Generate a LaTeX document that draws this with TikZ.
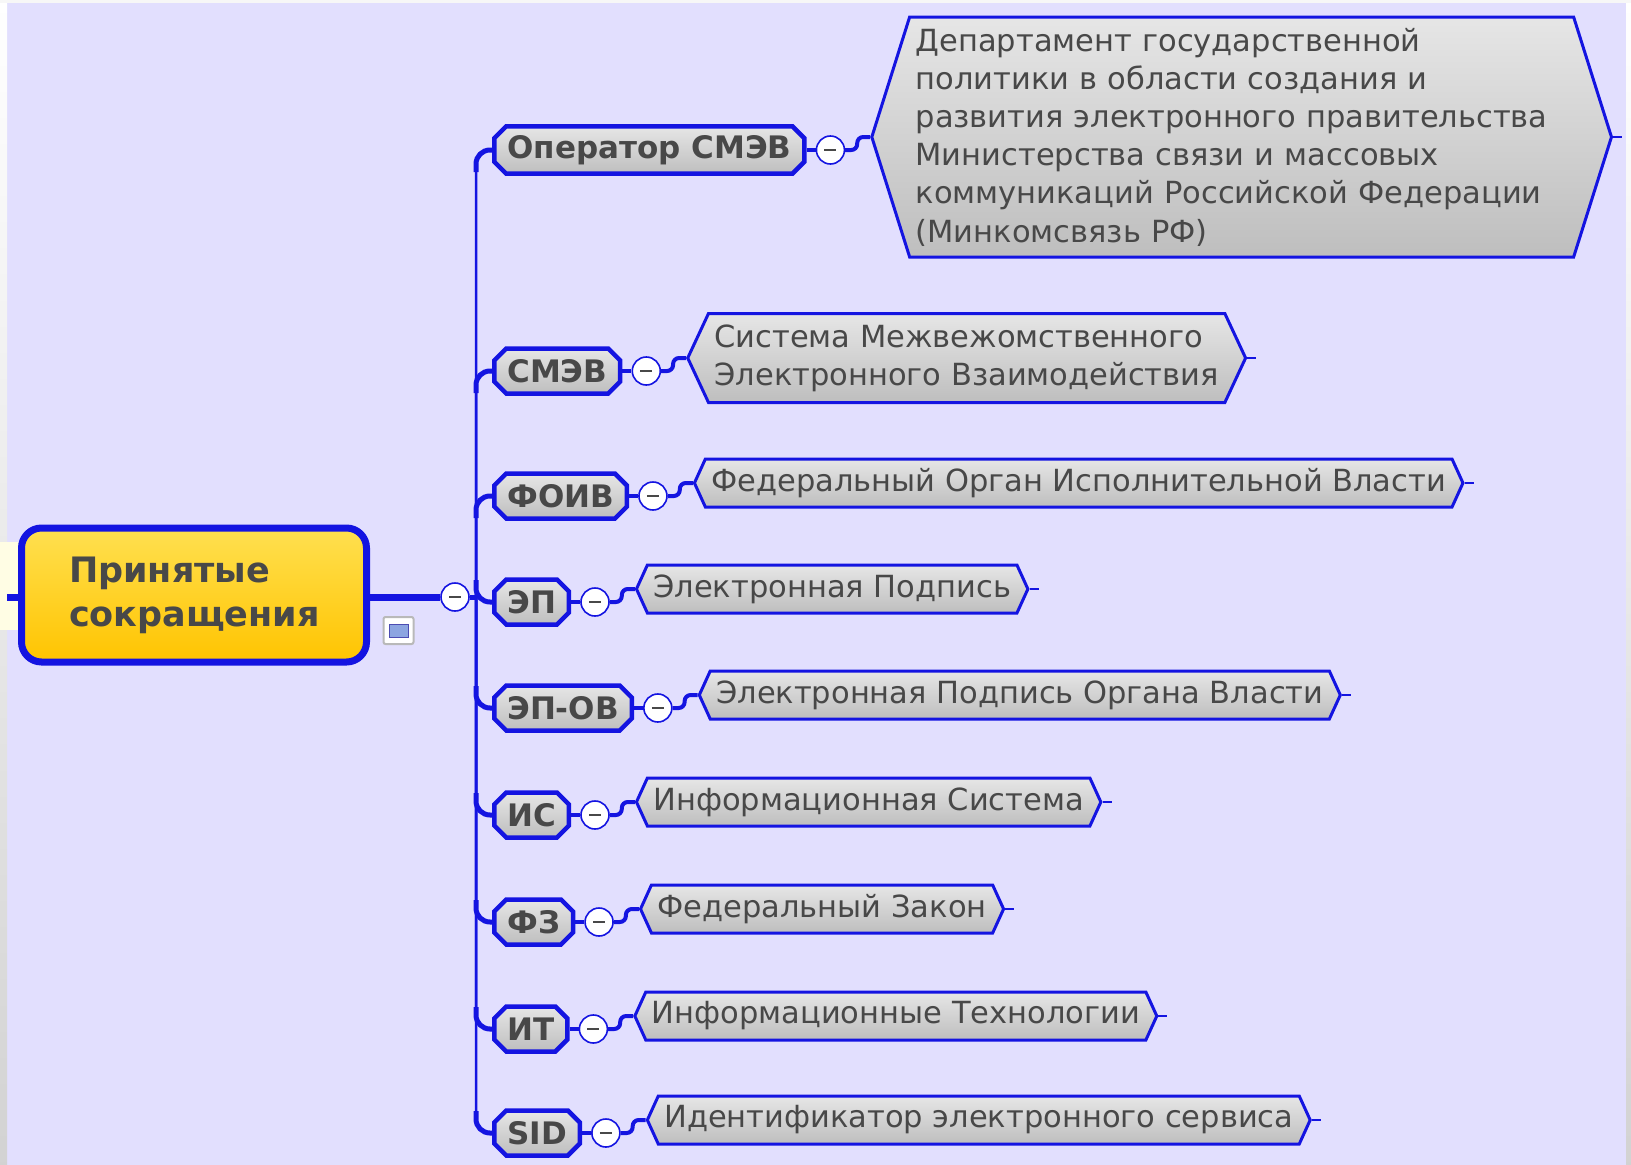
\documentclass[tikz,border=0pt]{standalone}
\usepackage{fontspec}
\setmainfont{DejaVu Sans}
\usetikzlibrary{shapes.misc,shapes.symbols,calc,positioning}
\definecolor{mmblue}{RGB}{20,20,225}
\definecolor{lav}{RGB}{226,223,254}
\definecolor{txt}{RGB}{72,72,72}
\definecolor{gtop}{RGB}{230,230,230}
\definecolor{gbot}{RGB}{190,190,190}
\definecolor{ytop}{RGB}{255,224,80}
\definecolor{ybot}{RGB}{255,196,0}
\definecolor{paley}{RGB}{255,253,228}
\definecolor{iconblue}{RGB}{140,165,225}
\begin{document}
\begin{tikzpicture}[x=1pt,y=-1pt,
  rootbox/.style={rectangle, rounded corners=20pt, draw=mmblue, line width=7pt,
    top color=ytop, bottom color=ybot, text=txt,
    font=\bfseries\fontsize{35}{44}\selectfont, minimum width=345pt,
    minimum height=134pt, align=left, text width=250pt},
  kid/.style={chamfered rectangle, chamfered rectangle xsep=6pt,
    chamfered rectangle ysep=6pt, draw=mmblue, line width=4.5pt,
    top color=gtop, bottom color=gbot, text=txt,
    font=\bfseries\fontsize{31}{36}\selectfont, inner xsep=7pt, inner ysep=3pt,
    minimum height=45pt, anchor=west},
  hexb/.style={signal, signal to=west and east, signal pointer angle=131,
    draw=mmblue, line width=3pt, top color=gtop, bottom color=gbot, text=txt,
    font=\fontsize{30.5}{38.2}\selectfont, inner xsep=6pt, inner ysep=3pt,
    minimum height=48pt, anchor=west, align=left},
  cnode/.style={circle, draw=mmblue, line width=1.6pt, fill=white,
    minimum size=28pt, inner sep=0pt,
    path picture={\draw[line width=1.6pt, txt]
      ([xshift=-6pt]path picture bounding box.center) --
      ([xshift=6pt]path picture bounding box.center);}},
  link/.style={draw=mmblue, line width=4pt, rounded corners=6pt},
  trunkline/.style={draw=mmblue, line width=2.5pt, rounded corners=14pt},
  bendline/.style={draw=mmblue, line width=5pt, rounded corners=14pt},
  tickline/.style={draw=mmblue, line width=2pt}
]
% background
\fill[lav] (0,0) rectangle (1631,1165);
\shade[top color=white, bottom color=gray!35] (0,0) rectangle (7,1165);
\shade[top color=white, bottom color=gray!35] (1626,0) rectangle (1631,1165);
\fill[white!94!gray] (0,0) rectangle (1631,3);
\fill[paley] (0,542) rectangle (120,630);
\useasboundingbox (0,0) rectangle (1631,1165);

% root
\node[rootbox] (root) at (194,595) {Принятые\\сокращения};
\coordinate (st) at (7,597);
\draw[mmblue, line width=7pt] (st) -- (st -| root.west);
\node[cnode] (c0) at (455,597) {};
\draw[mmblue, line width=7pt] (c0.west -| root.east) -- (c0.west);
\coordinate (J) at (476,597);
\draw[mmblue, line width=5pt] (c0.east) -- (J);

% icon
\node[draw=gray!55, line width=2pt, fill=white, rounded corners=2pt,
  minimum width=30pt, minimum height=27pt, inner sep=0pt] (icon) at (398.5,630.5) {};
\node[draw=blue!40!gray, line width=1pt, fill=iconblue, minimum width=19pt,
  minimum height=13pt, inner sep=0pt] (iconin) at (icon.center) {};

% children
\node[kid] (k1) at (492,150) {Оператор СМЭВ};
\node[kid] (k2) at (492,371) {СМЭВ};
\node[kid] (k3) at (492,496) {ФОИВ};
\node[kid] (k4) at (492,602) {ЭП};
\node[kid] (k5) at (492,708) {ЭП-ОВ};
\node[kid] (k6) at (492,815) {ИС};
\node[kid] (k7) at (492,922) {ФЗ};
\node[kid] (k8) at (492,1029) {ИТ};
\node[kid] (k9) at (492,1133) {SID};

% trunk and bends
\foreach \k in {k1,k2,k3} {
  \draw[trunkline] (J) |- (\k.west);
  \draw[bendline] ($(J |- \k.west)+(0,22)$) |- (\k.west);
}
\foreach \k in {k4,k5,k6,k7,k8,k9} {
  \draw[trunkline] (J) |- (\k.west);
  \draw[bendline] ($(J |- \k.west)+(0,-22)$) |- (\k.west);
}

% collapse circles
\foreach \i in {1,...,9} {
  \node[cnode, right=9pt of k\i] (c\i) {};
  \draw[link] (k\i.east) -- (c\i.west);
  \coordinate (v\i) at ($(c\i.east)+(25,-13)$);
}

% descriptions
\node[hexb, signal pointer angle=145, minimum height=240pt, text width=652pt] (h1) at (v1)
  {Департамент государственной\\политики в области создания и\\развития электронного правительства\\Министерства связи и массовых\\коммуникаций Российской Федерации\\(Минкомсвязь РФ)};
\node[hexb, signal pointer angle=130, minimum height=89pt] (h2) at (v2)
  {Система Межвежомственного\\Электронного Взаимодействия};
\node[hexb] (h3) at (v3) {Федеральный Орган Исполнительной Власти};
\node[hexb] (h4) at (v4) {Электронная Подпись};
\node[hexb] (h5) at (v5) {Электронная Подпись Органа Власти};
\node[hexb] (h6) at (v6) {Информационная Система};
\node[hexb] (h7) at (v7) {Федеральный Закон};
\node[hexb] (h8) at (v8) {Информационные Технологии};
\node[hexb] (h9) at (v9) {Идентификатор электронного сервиса};

\foreach \i in {1,...,9} {
  \draw[link] (c\i.east) -- ++(12,0) |- (h\i.west);
  \draw[tickline] (h\i.east) -- ++(9,0);
}
\end{tikzpicture}
\end{document}
